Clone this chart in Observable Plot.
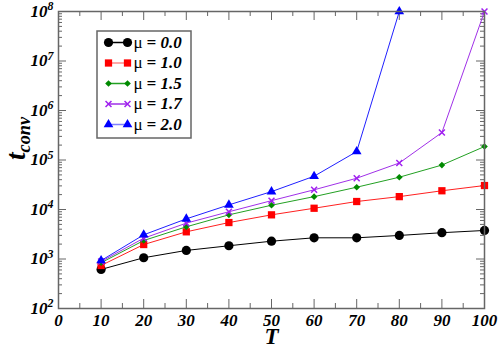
<!DOCTYPE html>
<html><head><meta charset="utf-8">
<script src="https://cdn.jsdelivr.net/npm/d3@7"></script>
<script src="https://cdn.jsdelivr.net/npm/@observablehq/plot@0.6"></script>
<style>body{margin:0;background:#fff}</style>
</head><body><div id="chart"></div>
<script>
// ---- data ----
const T = [10, 20, 30, 40, 50, 60, 70, 80, 90, 100];
const mu00 = [616, 1060, 1490, 1850, 2290, 2680, 2680, 2990, 3400, 3770];
const mu10 = [740, 1960, 3540, 5450, 7800, 10600, 14500, 18200, 23900, 30500];
const mu15 = [840, 2360, 4470, 7800, 12200, 18200, 28200, 44900, 79000, 187000];
const mu17 = [890, 2630, 5300, 9000, 15100, 25000, 42800, 87000, 359000, 1e8];
const mu20 = [930, 3080, 6470, 12400, 23000, 47000, 148000, 1e8, null, null];
const muLabels = ["0.0", "1.0", "1.5", "1.7", "2.0"];
const xTickValues = [0, 10, 20, 30, 40, 50, 60, 70, 80, 90, 100];
const yTickValues = [1e2, 1e3, 1e4, 1e5, 1e6, 1e7, 1e8];

// ---- styling ----
const FONT = "Liberation Serif";
const W = 498, H = 347, mL = 58, mR = 14, mT = 11, mB = 39;
const fw = W - mL - mR, fh = H - mT - mB;
const AX = "#666";
const styles = [
  {line: "#000000", fill: "#000000", symbol: "circle", r: 4.6, legLine: "#000"},
  {line: "#ff2020", fill: "#ff0000", symbol: "square", r: 4.1, legLine: "#ff8c8c"},
  {line: "#22a022", fill: "#008a00", symbol: "diamond2", r: 3.0, legLine: "#22a022"},
  {line: "#a030e8", fill: "#a020f0", symbol: "times", r: 2.8, legLine: "#a030e8"},
  {line: "#2020ff", fill: "#0000ff", symbol: "triangle", r: 3.6, legLine: "#8080ff"}
];
const allSeries = [mu00, mu10, mu15, mu17, mu20];

const rows = allSeries.map((vals, i) =>
  T.map((t, j) => ({T: t, v: vals[j], s: i})).filter(d => d.v != null));

// minor ticks
const xMinor = d3.range(5, 100, 10);
const yMinor = [];
for (let e = 2; e < 8; e++) for (let k = 2; k <= 9; k++) yMinor.push(k * Math.pow(10, e));

// pixel -> data helpers for legend layout
const px2x = px => (px - mL) / fw * 100;
const py2y = py => Math.pow(10, 8 - (py - mT) / fh * 6);

const marks = [];
// ticks (inward, all four sides)
marks.push(Plot.tickX(xTickValues, {x: d => d, insetTop: fh - 9, stroke: AX}));
marks.push(Plot.tickX(xTickValues, {x: d => d, insetBottom: fh - 9, stroke: AX}));
marks.push(Plot.tickX(xMinor, {x: d => d, insetTop: fh - 5, stroke: AX}));
marks.push(Plot.tickX(xMinor, {x: d => d, insetBottom: fh - 5, stroke: AX}));
marks.push(Plot.tickY(yTickValues, {y: d => d, insetRight: fw - 8, stroke: AX}));
marks.push(Plot.tickY(yTickValues, {y: d => d, insetLeft: fw - 8, stroke: AX}));
marks.push(Plot.tickY(yMinor, {y: d => d, insetRight: fw - 4, stroke: AX}));
marks.push(Plot.tickY(yMinor, {y: d => d, insetLeft: fw - 4, stroke: AX}));

// series
rows.forEach((data, i) => {
  const st = styles[i];
  marks.push(Plot.line(data, {x: "T", y: "v", stroke: st.line, strokeWidth: 1}));
  marks.push(Plot.dot(data, {x: "T", y: "v", symbol: st.symbol, r: st.r,
    fill: st.symbol === "times" ? "none" : st.fill,
    stroke: st.symbol === "times" ? st.fill : "none", strokeWidth: 1.5}));
});

// legend
marks.push(Plot.rect([0], {x1: px2x(97), x2: px2x(191), y1: py2y(31), y2: py2y(138),
  fill: "white", stroke: AX, strokeWidth: 1.5}));
muLabels.forEach((lab, i) => {
  const st = styles[i];
  const py = 42 + i * 20.5;
  const seg = [{x: px2x(108), y: py2y(py)}, {x: px2x(127), y: py2y(py)}];
  marks.push(Plot.line(seg, {x: "x", y: "y", stroke: st.legLine, strokeWidth: 1.5}));
  marks.push(Plot.dot(seg, {x: "x", y: "y", symbol: st.symbol, r: st.r,
    fill: st.symbol === "times" ? "none" : st.fill,
    stroke: st.symbol === "times" ? st.fill : "none", strokeWidth: 1.5}));
  marks.push(Plot.text([0], {x: px2x(133), y: py2y(py), text: () => "μ",
    textAnchor: "start", fontSize: 17, fontStyle: "normal", fontWeight: "normal", fill: "#000"}));
  marks.push(Plot.text([0], {x: px2x(146), y: py2y(py), text: () => "= " + lab,
    textAnchor: "start", fontSize: 17, fill: "#000"}));
});

// axes labels
marks.push(Plot.axisX({ticks: xTickValues, tickFormat: d => String(d), tickSize: 0,
  tickPadding: 5, label: null, fontSize: 17}));
marks.push(Plot.axisY({ticks: yTickValues, tickFormat: d => "10^" + Math.round(Math.log10(d)),
  tickSize: 0, tickPadding: 5, label: null, fontSize: 17}));
marks.push(Plot.frame({stroke: AX, strokeWidth: 1.5}));

// titles
marks.push(Plot.text(["T"], {frameAnchor: "bottom", text: d => d, lineAnchor: "bottom",
  dy: 35, fontSize: 23}));
marks.push(Plot.text(["t_conv"], {frameAnchor: "left", text: d => d, rotate: -90,
  lineAnchor: "bottom", dx: -34, dy: 0, fontSize: 27}));

const chart = Plot.plot({
  width: W, height: H,
  marginLeft: mL, marginRight: mR, marginTop: mT, marginBottom: mB,
  x: {domain: [0, 100]},
  y: {type: "log", domain: [1e2, 1e8]},
  style: {fontSize: "16px", fontWeight: "bold", fontStyle: "italic",
    color: "#000", background: "#fff"},
  marks
});
chart.setAttribute("font-family", FONT);
chart.style.fontFamily = FONT;

// superscripts / subscripts, and font on every text
d3.select(chart).selectAll("text").each(function() {
  this.setAttribute("font-family", FONT);
  this.style.fontFamily = FONT;
  const el = d3.select(this);
  const txt = this.textContent;
  if (/^10\^\d+$/.test(txt)) {
    const e = txt.split("^")[1];
    el.text("10");
    el.append("tspan").attr("dy", "-0.55em").attr("font-size", "0.7em").text(e);
  } else if (txt === "t_conv") {
    el.text("t");
    el.append("tspan").attr("dy", "0.3em").attr("font-size", "0.68em").text("conv");
  }
});
document.getElementById("chart").appendChild(chart);
</script>
</body></html>
